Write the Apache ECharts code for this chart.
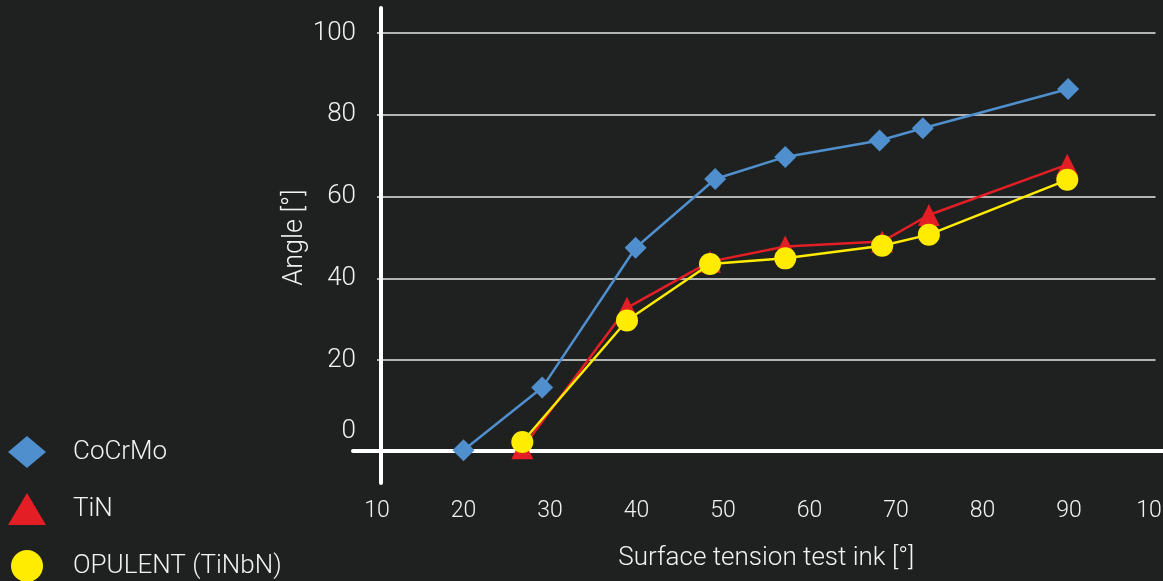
<!DOCTYPE html>
<html>
<head>
<meta charset="utf-8">
<script src="https://cdn.jsdelivr.net/npm/echarts@6/dist/echarts.min.js"></script>
<style>
html,body{margin:0;padding:0;background:#1f2120;}
#c{width:1163px;height:581px;}
</style>
</head>
<body>
<div id="c"></div>
<script>
// ---- data ----
const seriesNames = ['CoCrMo', 'TiN', 'OPULENT (TiNbN)'];
const cocrmoX = [20, 29.1, 39.9, 49.1, 57.2, 68.1, 73.1, 89.9];
const cocrmoY = [-2.0, 13.3, 47.5, 64.3, 69.7, 73.7, 76.7, 86.3];
const tinX = [26.8, 38.9, 48.5, 57.2, 68.4, 73.8, 89.8];
const tinY = [-1.5, 32.8, 44.1, 47.8, 49.0, 55.5, 67.8];
const opulentX = [26.8, 38.9, 48.5, 57.2, 68.4, 73.8, 89.8];
const opulentY = [0, 29.7, 43.5, 44.9, 48.0, 50.7, 64.1];
const xTicks = [10, 20, 30, 40, 50, 60, 70, 80, 90, 100];
const yTicks = [0, 20, 40, 60, 80, 100];

const pairs = (xs, ys) => xs.map((x, i) => [x, ys[i]]);
const FONT = 'Roboto';
const colors = ['#4f8fcd', '#e31e25', '#ffec00'];
const symbols = ['diamond', 'triangle', 'circle'];

const chart = echarts.init(document.getElementById('c'), null, {renderer: 'canvas'});
const mk = (i, xs, ys) => ({
  name: seriesNames[i],
  type: 'line',
  xAxisIndex: 0, yAxisIndex: 0,
  data: pairs(xs, ys),
  symbol: symbols[i],
  symbolSize: 22,
  showAllSymbol: true,
  clip: false,
  itemStyle: {color: colors[i], opacity: 1},
  lineStyle: {color: colors[i], width: 2.5},
  emphasis: {disabled: true},
  animation: false,
  z: 3 + i
});

chart.setOption({
  backgroundColor: '#1f2120',
  animation: false,
  grid: [
    {left: 377, right: 7.5, top: 33, bottom: 139, outerBoundsMode: 'none', containLabel: false},
    {left: 353, right: 0, top: 8, bottom: 98, outerBoundsMode: 'none', containLabel: false}
  ],
  legend: {
    orient: 'vertical',
    left: 8, top: 436, height: 170, padding: 0,
    itemWidth: 38, itemHeight: 32, itemGap: 25,
    data: seriesNames.map((n, i) => ({name: n, icon: symbols[i]})),
    textStyle: {color: '#f2f2f2', fontSize: 26, fontFamily: FONT, fontWeight: 300, padding: [0, 0, 0, 22]},
    selectedMode: false
  },
  xAxis: [
    {
      type: 'value', gridIndex: 0,
      min: xTicks[0], max: xTicks[xTicks.length - 1], interval: 10,
      axisLine: {show: false}, axisTick: {show: false}, splitLine: {show: false},
      axisLabel: {color: '#f2f2f2', fontSize: 23, fontFamily: FONT, fontWeight: 300, margin: 58,
        showMinLabel: true, showMaxLabel: true},
      name: 'Surface tension test ink [°]',
      nameLocation: 'middle', nameGap: 103, nameMoveOverlap: false,
      nameTextStyle: {color: '#f2f2f2', fontSize: 26, fontFamily: FONT, fontWeight: 300}
    },
    {
      type: 'value', gridIndex: 1, min: 0, max: 1, position: 'bottom', offset: -32,
      axisLine: {show: true, onZero: false, lineStyle: {color: '#ffffff', width: 4}},
      axisTick: {show: false}, axisLabel: {show: false}, splitLine: {show: false}
    }
  ],
  yAxis: [
    {
      type: 'value', gridIndex: 0,
      min: yTicks[0], max: yTicks[yTicks.length - 1], interval: 20,
      axisLine: {show: false}, axisTick: {show: false},
      splitLine: {show: true, showMinLine: false, lineStyle: {color: '#e6e6e6', width: 1.5}},
      axisLabel: {
        color: '#f2f2f2', fontSize: 26, fontFamily: FONT, fontWeight: 300, margin: 21,
        formatter: v => v === 0 ? '{z|0}' : '{n|' + v + '}',
        rich: {
          z: {fontSize: 26, fontFamily: FONT, fontWeight: 300, color: '#f2f2f2', padding: [0, 0, 22, 0]},
          n: {fontSize: 26, fontFamily: FONT, fontWeight: 300, color: '#f2f2f2'}
        }
      },
      name: 'Angle [°]',
      nameLocation: 'middle', nameGap: 68, nameRotate: 90, nameMoveOverlap: false,
      nameTextStyle: {color: '#f2f2f2', fontSize: 27, fontFamily: FONT, fontWeight: 300}
    },
    {
      type: 'value', gridIndex: 1, min: 0, max: 1, position: 'left', offset: -28,
      axisLine: {show: true, onZero: false, lineStyle: {color: '#ffffff', width: 4}},
      axisTick: {show: false}, axisLabel: {show: false}, splitLine: {show: false}
    }
  ],
  series: [
    mk(0, cocrmoX, cocrmoY),
    mk(1, tinX, tinY),
    mk(2, opulentX, opulentY)
  ]
});
</script>
</body>
</html>
